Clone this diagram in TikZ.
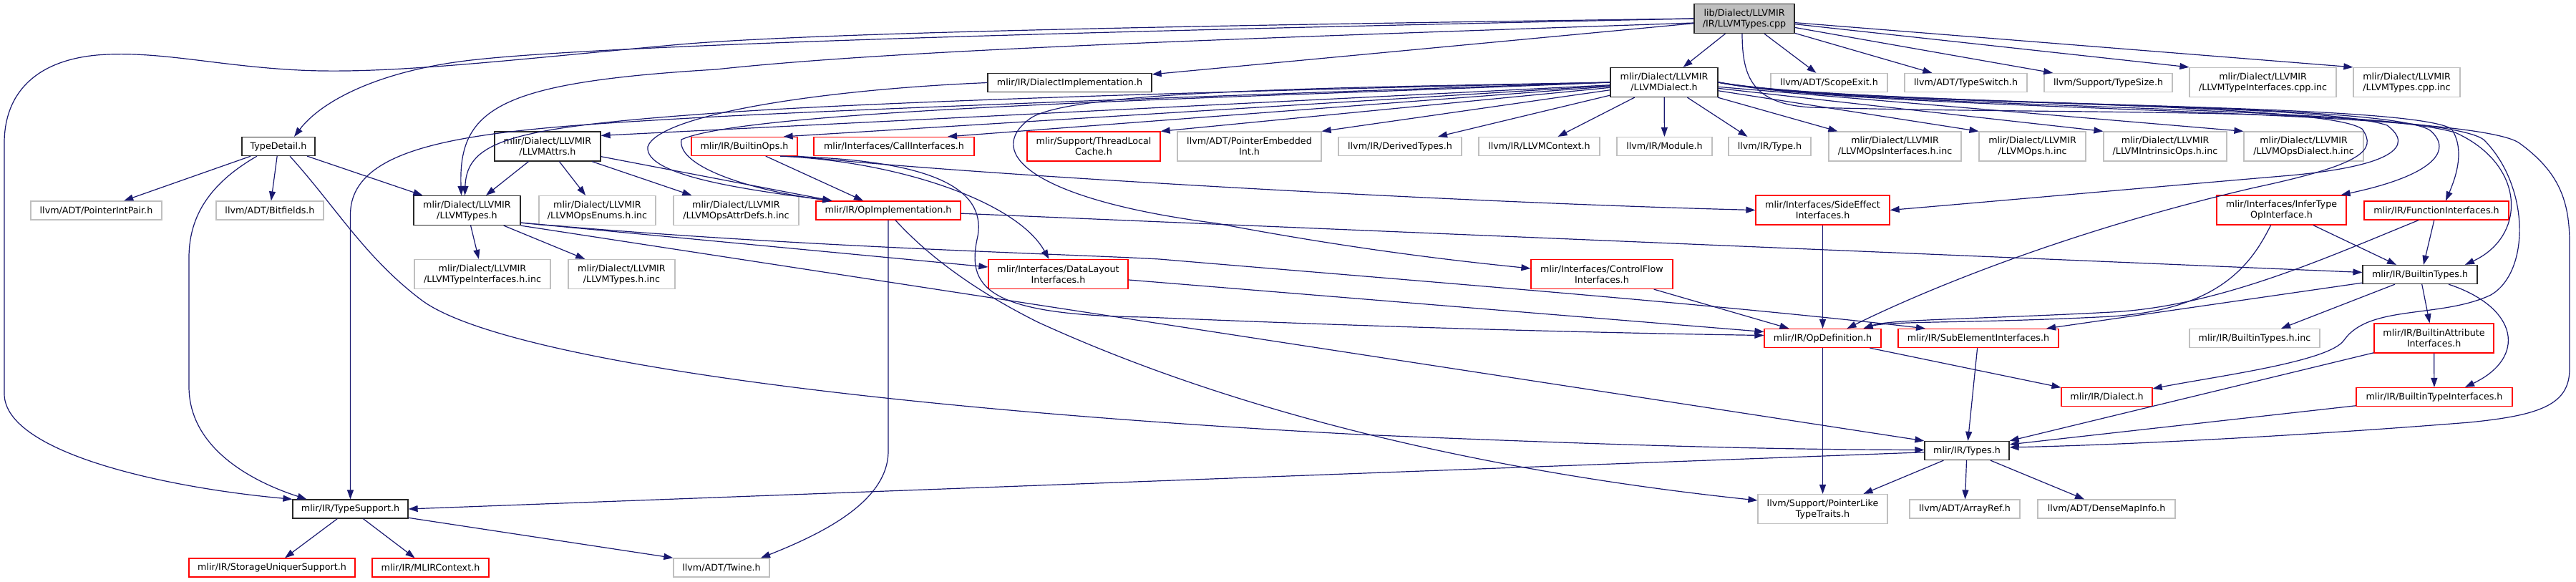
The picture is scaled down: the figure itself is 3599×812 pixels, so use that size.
\documentclass[tikz,border=0pt]{standalone}
\usepackage{fontspec}
\setmainfont{DejaVu Sans}
\usetikzlibrary{arrows.meta}
\definecolor{edgeblue}{RGB}{25,25,112}
\definecolor{greyline}{RGB}{191,191,191}
\definecolor{rootfill}{RGB}{191,191,191}
\definecolor{docline}{RGB}{40,40,40}
\definecolor{cutred}{RGB}{255,0,0}

\begin{document}
\begin{tikzpicture}[x=1pt,y=-1pt,
  every node/.style={font=\fontsize{12.7}{15}\selectfont,align=center,inner sep=0pt,line width=1.25pt,fill=white},
  oneline/.style={minimum height=26pt},
  twoline/.style={minimum height=41pt},
  docnode/.style={draw=docline},
  extnode/.style={draw=greyline},
  cutnode/.style={draw=cutred},
  rootnode/.style={draw=docline,fill=rootfill},
  dep/.style={draw=edgeblue,line width=1.2pt,-{Triangle[length=13pt,width=9pt]}}]
  \useasboundingbox (0,0) rectangle (3599,812);

  \node[rootnode,twoline,minimum width=140pt] (src) at (2437,26) {lib/Dialect/LLVMIR\\/IR/LLVMTypes.cpp};

  \node[docnode,oneline,minimum width=229pt] (dimpl) at (1494.5,115.5) {mlir/IR/DialectImplementation.h};
  \node[docnode,twoline,minimum width=150pt] (dialect) at (2325,115) {mlir/Dialect/LLVMIR\\/LLVMDialect.h};
  \node[extnode,oneline,minimum width=163pt] (scope) at (2555.5,115.5) {llvm/ADT/ScopeExit.h};
  \node[extnode,oneline,minimum width=171pt] (tswitch) at (2746.5,115.5) {llvm/ADT/TypeSwitch.h};
  \node[extnode,oneline,minimum width=179pt] (tsize) at (2945.5,115.5) {llvm/Support/TypeSize.h};
  \node[extnode,twoline,minimum width=205pt] (tifcpp) at (3161.5,115) {mlir/Dialect/LLVMIR\\/LLVMTypeInterfaces.cpp.inc};
  \node[extnode,twoline,minimum width=149pt] (tcpp) at (3362.5,115) {mlir/Dialect/LLVMIR\\/LLVMTypes.cpp.inc};

  \node[docnode,oneline,minimum width=102pt] (tdetail) at (389,204.5) {TypeDetail.h};
  \node[docnode,twoline,minimum width=148pt] (attrs) at (765,204.5) {mlir/Dialect/LLVMIR\\/LLVMAttrs.h};
  \node[cutnode,oneline,minimum width=148pt] (bops) at (1040,204.5) {mlir/IR/BuiltinOps.h};
  \node[cutnode,oneline,minimum width=224pt] (callif) at (1249,204.5) {mlir/Interfaces/CallInterfaces.h};
  \node[cutnode,twoline,minimum width=186pt] (tlcache) at (1528,204.5) {mlir/Support/ThreadLocal\\Cache.h};
  \node[extnode,twoline,minimum width=201pt] (pei) at (1745.5,204.5) {llvm/ADT/PointerEmbedded\\Int.h};
  \node[extnode,oneline,minimum width=172pt] (dtypes) at (1956,204.5) {llvm/IR/DerivedTypes.h};
  \node[extnode,oneline,minimum width=169pt] (llctx) at (2150.5,204.5) {llvm/IR/LLVMContext.h};
  \node[extnode,oneline,minimum width=133pt] (module) at (2325.5,204.5) {llvm/IR/Module.h};
  \node[extnode,oneline,minimum width=115pt] (ltype) at (2472.5,204.5) {llvm/IR/Type.h};
  \node[extnode,twoline,minimum width=185pt] (opsif) at (2647.5,204.5) {mlir/Dialect/LLVMIR\\/LLVMOpsInterfaces.h.inc};
  \node[extnode,twoline,minimum width=149pt] (ops) at (2839.5,204.5) {mlir/Dialect/LLVMIR\\/LLVMOps.h.inc};
  \node[extnode,twoline,minimum width=172pt] (intr) at (3025,204.5) {mlir/Dialect/LLVMIR\\/LLVMIntrinsicOps.h.inc};
  \node[extnode,twoline,minimum width=167pt] (opsdia) at (3218.5,204.5) {mlir/Dialect/LLVMIR\\/LLVMOpsDialect.h.inc};

  \node[extnode,oneline,minimum width=183pt] (pip) at (134.5,294) {llvm/ADT/PointerIntPair.h};
  \node[extnode,oneline,minimum width=150pt] (bitf) at (377,294) {llvm/ADT/Bitfields.h};
  \node[docnode,twoline,minimum width=149pt] (types) at (652.5,294) {mlir/Dialect/LLVMIR\\/LLVMTypes.h};
  \node[extnode,twoline,minimum width=163pt] (enums) at (834.5,294) {mlir/Dialect/LLVMIR\\/LLVMOpsEnums.h.inc};
  \node[extnode,twoline,minimum width=175pt] (attrdefs) at (1028.5,294) {mlir/Dialect/LLVMIR\\/LLVMOpsAttrDefs.h.inc};
  \node[cutnode,oneline,minimum width=202pt] (opimpl) at (1241,294) {mlir/IR/OpImplementation.h};
  \node[cutnode,twoline,minimum width=187pt] (sideeff) at (2546.5,293.5) {mlir/Interfaces/SideEffect\\Interfaces.h};
  \node[cutnode,twoline,minimum width=181pt] (infer) at (3187.5,293.5) {mlir/Interfaces/InferType\\OpInterface.h};
  \node[cutnode,oneline,minimum width=202pt] (funcif) at (3404,294) {mlir/IR/FunctionInterfaces.h};

  \node[extnode,twoline,minimum width=190pt] (tifinc) at (674,383) {mlir/Dialect/LLVMIR\\/LLVMTypeInterfaces.h.inc};
  \node[extnode,twoline,minimum width=149pt] (tinc) at (868.5,383) {mlir/Dialect/LLVMIR\\/LLVMTypes.h.inc};
  \node[cutnode,twoline,minimum width=195pt] (dlayout) at (1478.5,383) {mlir/Interfaces/DataLayout\\Interfaces.h};
  \node[cutnode,twoline,minimum width=198pt] (cflow) at (2238,383) {mlir/Interfaces/ControlFlow\\Interfaces.h};
  \node[docnode,oneline,minimum width=160pt] (btypes) at (3381,383.5) {mlir/IR/BuiltinTypes.h};

  \node[cutnode,oneline,minimum width=163pt] (opdef) at (2546.5,472.5) {mlir/IR/OpDefinition.h};
  \node[cutnode,oneline,minimum width=224pt] (subel) at (2764,472.5) {mlir/IR/SubElementInterfaces.h};
  \node[extnode,oneline,minimum width=182pt] (btinc) at (3150,472.5) {mlir/IR/BuiltinTypes.h.inc};
  \node[cutnode,twoline,minimum width=167pt] (battr) at (3400.5,472.5) {mlir/IR/BuiltinAttribute\\Interfaces.h};

  \node[cutnode,oneline,minimum width=127pt] (dialecth) at (2943.5,554.5) {mlir/IR/Dialect.h};
  \node[cutnode,oneline,minimum width=218pt] (btif) at (3401,554.5) {mlir/IR/BuiltinTypeInterfaces.h};

  \node[docnode,oneline,minimum width=118pt] (irtypes) at (2748,629.5) {mlir/IR/Types.h};

  \node[docnode,oneline,minimum width=161pt] (tsupport) at (489.5,711) {mlir/IR/TypeSupport.h};
  \node[extnode,twoline,minimum width=181pt] (plike) at (2546.5,711) {llvm/Support/PointerLike\\TypeTraits.h};
  \node[extnode,oneline,minimum width=154pt] (aref) at (2745,711) {llvm/ADT/ArrayRef.h};
  \node[extnode,oneline,minimum width=192pt] (dmi) at (2943,711) {llvm/ADT/DenseMapInfo.h};

  \node[cutnode,oneline,minimum width=232pt] (suniq) at (380,793) {mlir/IR/StorageUniquerSupport.h};
  \node[cutnode,oneline,minimum width=163pt] (mlirctx) at (601.5,793) {mlir/IR/MLIRContext.h};
  \node[extnode,oneline,minimum width=134pt] (twine) at (1008,793) {llvm/ADT/Twine.h};

  % LLVMTypes.cpp
  \draw[dep] (src.west) .. controls (1700,40) and (850,60) .. (650,85) .. controls (530,100) and (450,140) .. ([xshift=22pt]tdetail.north);
  \draw[dep] (src.west) .. controls (1700,35) and (1150,45) .. (950,62) .. controls (700,85) and (540,104) .. (418,98) .. controls (300,92) and (220,70) .. (135,77) .. controls (50,85) and (6,130) .. (6,200) -- (6,550) .. controls (6,630) and (220,680) .. (tsupport.north west);
  \draw[dep] ([yshift=-6pt]src.west) .. controls (1700,55) and (1250,70) .. (1000,97) .. controls (700,115) and (640,150) .. ([xshift=-8pt]types.north);
  \draw[dep] (src) -- ([yshift=-2pt]dimpl.north east);
  \draw[dep] (src) -- (dialect);
  \draw[dep] (src) -- (scope);
  \draw[dep] (src) -- (tswitch);
  \draw[dep] (src) -- (tsize);
  \draw[dep] (src) -- (tifcpp.north west);
  \draw[dep] (src) -- (tcpp.north west);
  \draw[dep] ([xshift=-3pt]src.south) .. controls (2434,110) and (2450,145) .. (2530,150) .. controls (2900,160) and (3300,150) .. (3430,185) .. controls (3530,230) and (3530,330) .. ([xshift=63pt]btypes.north);

  % LLVMDialect.h
  \draw[dep] (dialect) -- ([yshift=-6pt]attrs.north east);
  \draw[dep] (dialect.west) .. controls (1800,125) and (1250,140) .. (1000,158) .. controls (720,178) and (652,195) .. ([xshift=-3pt]types.north);
  \draw[dep] (dialect.west) .. controls (1800,130) and (1250,150) .. (1000,163) .. controls (700,180) and (489.5,190) .. (489.5,300) -- (tsupport.north);
  \draw[dep] (dialect) -- ([xshift=-20pt]bops.north east);
  \draw[dep] (dialect) -- ([xshift=75pt]callif.north);
  \draw[dep] (dialect) -- (tlcache.north east);
  \draw[dep] (dialect) -- (pei.north east);
  \draw[dep] (dialect) -- ([xshift=53pt]dtypes.north);
  \draw[dep] (dialect) -- ([xshift=26pt]llctx.north);
  \draw[dep] (dialect) -- (module);
  \draw[dep] (dialect) -- ([xshift=27pt]ltype.north west);
  \draw[dep] (dialect) -- ([xshift=13pt]opsif.north west);
  \draw[dep] (dialect) -- (ops.north west);
  \draw[dep] (dialect) -- (intr.north west);
  \draw[dep] (dialect) -- (opsdia.north west);
  \draw[dep] (dialect.west) .. controls (1800,135) and (1050,150) .. (952,195) .. controls (945,235) and (1060,268) .. ([xshift=23pt]opimpl.north west);
  \draw[dep] (dialect.west) .. controls (1900,122) and (1500,125) .. (1440,165) .. controls (1370,215) and (1450,280) .. (1700,312) .. controls (1900,350) and (2050,366) .. ([yshift=8pt]cflow.west);
  \draw[dep] (dialect.east) .. controls (2600,150) and (3230,140) .. (3335,175) .. controls (3375,205) and (3340,232) .. (3200,245) .. controls (3000,262) and (2800,280) .. (sideeff.east);
  \draw[dep] (dialect.east) .. controls (2600,148) and (3240,140) .. (3300,180) .. controls (3322,210) and (3300,230) .. (3150,262) .. controls (2900,320) and (2700,400) .. ([xshift=34pt]opdef.north);
  \draw[dep] (dialect.east) .. controls (2600,150) and (3330,140) .. (3395,182) .. controls (3428,210) and (3400,245) .. ([xshift=-8pt]infer.north east);
  \draw[dep] (dialect.east) .. controls (2600,152) and (3360,140) .. (3425,180) .. controls (3445,210) and (3430,250) .. ([xshift=13pt]funcif.north);
  \draw[dep] (dialect.east) .. controls (2600,154) and (3400,145) .. (3470,195) .. controls (3535,260) and (3535,380) .. (3480,412) .. controls (3410,445) and (3310,425) .. (3275,475) .. controls (3255,505) and (3100,525) .. ([yshift=-2pt]dialecth.north east);
  \draw[dep] (dialect.east) .. controls (2600,156) and (3450,150) .. (3520,200) .. controls (3575,240) and (3590,280) .. (3590,340) -- (3590,515) .. controls (3590,565) and (3550,580) .. (3450,590) .. controls (3200,610) and (2950,622) .. ([yshift=-9pt]irtypes.north east);

  % DialectImplementation.h
  \draw[dep] (dimpl.west) .. controls (1150,125) and (920,160) .. (905,205) .. controls (900,245) and (1040,265) .. ([xshift=23pt]opimpl.north west);

  % TypeDetail.h
  \draw[dep] (tdetail) -- (pip);
  \draw[dep] (tdetail) -- (bitf);
  \draw[dep] (tdetail) -- (types);
  \draw[dep] ([xshift=-30pt]tdetail.south) .. controls (295,255) and (264,300) .. (264,360) -- (264,540) .. controls (264,625) and (350,672) .. ([xshift=-61pt]tsupport.north);
  \draw[dep] ([xshift=16pt]tdetail.south) .. controls (470,290) and (510,360) .. (590,420) .. controls (700,500) and (1200,570) .. (1900,607) .. controls (2300,624) and (2500,628) .. ([yshift=1pt]irtypes.west);

  % LLVMAttrs.h
  \draw[dep] (attrs) -- (types);
  \draw[dep] (attrs) -- (enums);
  \draw[dep] (attrs) -- (attrdefs);
  \draw[dep] (attrs) -- ([xshift=23pt]opimpl.north west);

  % BuiltinOps.h
  \draw[dep] (bops) -- ([xshift=-35pt]opimpl.north);
  \draw[dep] ([xshift=50pt]bops.south) .. controls (1250,225) and (1420,280) .. ([xshift=-13pt]dlayout.north);
  \draw[dep] (bops.south east) .. controls (1300,240) and (2000,282) .. (sideeff.west);
  \draw[dep] ([xshift=50pt]bops.south) .. controls (1300,222) and (1378,262) .. (1366,330) .. controls (1350,400) and (1375,440) .. (1600,443) .. controls (2000,460) and (2300,466) .. ([yshift=4pt]opdef.west);

  % OpImplementation.h
  \draw[dep] (opimpl) -- ([yshift=3pt]btypes.west);
  \draw[dep] ([xshift=10pt]opimpl.south) .. controls (1290,350) and (1350,400) .. (1450,450) .. controls (1800,610) and (2200,672) .. ([yshift=12pt]plike.west);
  \draw[dep] (opimpl.south) -- (1241,630) .. controls (1241,700) and (1150,745) .. ([xshift=55pt]twine.north);

  % LLVMTypes.h
  \draw[dep] (types) -- (tifinc);
  \draw[dep] (types) -- (tinc);
  \draw[dep] ([yshift=4pt]types.south east) -- ([yshift=10pt]dlayout.west);
  \draw[dep] ([yshift=4pt]types.south east) .. controls (1100,345) and (1500,355) .. (1620,362) .. controls (1950,390) and (2400,425) .. ([xshift=-74pt]subel.north);
  \draw[dep] (types.south east) -- (irtypes.north west);

  \draw[dep] (dlayout) -- ([yshift=9pt]opdef.west);
  \draw[dep] (cflow) -- ([xshift=-47pt]opdef.north);
  \draw[dep] (sideeff) -- (opdef);
  \draw[dep] ([xshift=-15pt]infer.south) .. controls (3145,370) and (3100,432) .. (2950,442) .. controls (2760,452) and (2640,448) .. ([xshift=57pt]opdef.north);
  \draw[dep] (infer) -- ([xshift=-33pt]btypes.north);
  \draw[dep] ([xshift=-25pt]funcif.south) .. controls (3250,360) and (3100,428) .. (2950,436) .. controls (2760,446) and (2640,446) .. ([xshift=57pt]opdef.north);
  \draw[dep] (funcif) -- ([xshift=5pt]btypes.north);

  % BuiltinTypes.h
  \draw[dep] (btypes) -- ([xshift=95pt]subel.north);
  \draw[dep] (btypes) -- ([xshift=37pt]btinc.north);
  \draw[dep] (btypes) -- ([xshift=-6pt]battr.north);
  \draw[dep] ([xshift=40pt]btypes.south) .. controls (3520,430) and (3530,500) .. ([xshift=43pt]btif.north);
  \draw[dep] (battr) -- (btif);
  \draw[dep] (battr) -- (irtypes.north east);
  \draw[dep] (btif) -- ([yshift=-5pt]irtypes.north east);

  \draw[dep] (opdef) -- (dialecth);
  \draw[dep] (opdef) -- (plike);
  \draw[dep] (subel) -- (irtypes);

  % Types.h
  \draw[dep] (irtypes) -- ([xshift=57pt]plike.north);
  \draw[dep] (irtypes) -- (aref);
  \draw[dep] (irtypes) -- ([xshift=-31pt]dmi.north);
  \draw[dep] (irtypes) -- (tsupport.east);

  % TypeSupport.h
  \draw[dep] (tsupport) -- ([xshift=18pt]suniq.north);
  \draw[dep] (tsupport) -- ([xshift=-22pt]mlirctx.north);
  \draw[dep] (tsupport) -- (twine.north west);
\end{tikzpicture}
\end{document}
